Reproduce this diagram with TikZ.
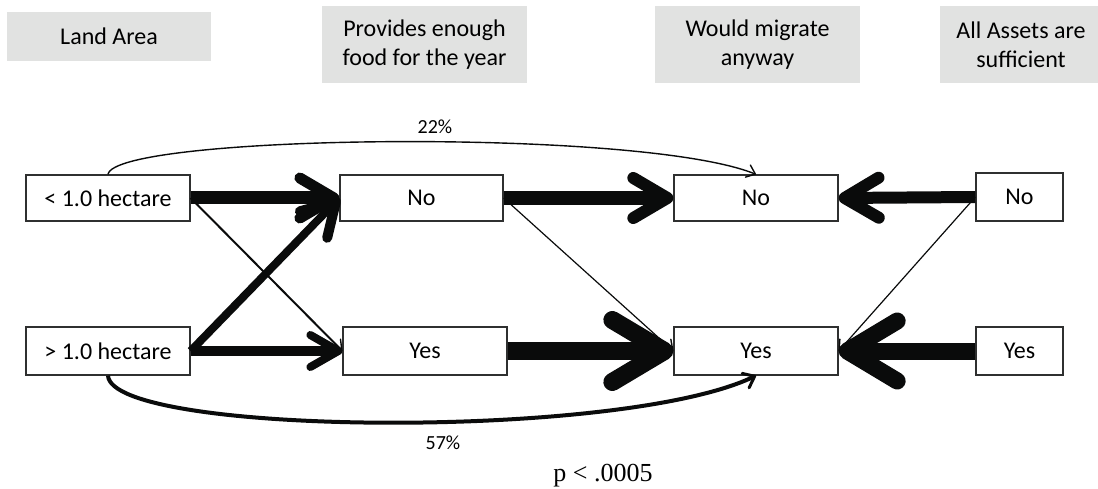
\documentclass[tikz,border=0pt]{standalone}
\usepackage{fontspec}
\setmainfont{Carlito}
\newfontfamily\timesf{Liberation Serif}
\usetikzlibrary{arrows.meta}
\definecolor{hdrgray}{HTML}{E1E2E1}
\definecolor{ink}{HTML}{0A0B0B}
\tikzset{
  hdr/.style={fill=hdrgray, draw=none, inner sep=0pt, align=center, font=\fontsize{24}{29}\selectfont},
  box/.style={draw=ink!85, line width=1.3pt, fill=white, inner sep=0pt, font=\fontsize{24}{29}\selectfont},
  lbl/.style={font=\fontsize{20}{24}\selectfont, inner sep=0pt},
  flow/.style={draw=ink, line cap=butt},
  bigtip/.style n args={4}{-{Straight Barb[length=#1pt, width=#2pt, line width=#3pt, round]}, line width=#4pt},
  thintip/.style={-{Straight Barb[length=9pt, width=14pt, line width=1.4pt, round]}, line width=#1},
}
\begin{document}
\begin{tikzpicture}[x=1pt,y=-1pt]
\useasboundingbox (0,0) rectangle (1098,489);
% headers
\node[hdr, minimum width=204pt, minimum height=49pt] (h1) at (109,36.5) {Land Area};
\node[hdr, minimum width=205pt, minimum height=77pt] (h2) at (424.5,44.5) {Provides enough\\food for the year};
\node[hdr, minimum width=205pt, minimum height=77pt] (h3) at (757.5,44.5) {Would migrate\\anyway};
\fill[hdrgray] (940,6) rectangle (1098,83);
\node[inner sep=0pt, align=center, font=\fontsize{24}{29}\selectfont] (h4) at (1021,44.5) {All Assets are\\sufficient};
% boxes
\node[box, minimum width=164pt, minimum height=46pt] (l1) at (108,198) {< 1.0 hectare};
\node[box, minimum width=164pt, minimum height=48pt] (l2) at (108,351) {> 1.0 hectare};
\node[box, minimum width=163pt, minimum height=46pt] (f1) at (421.5,198) {No};
\node[box, minimum width=164pt, minimum height=48pt] (f2) at (425,351) {Yes};
\node[box, minimum width=164pt, minimum height=46pt] (m1) at (756,198) {No};
\node[box, minimum width=164pt, minimum height=48pt] (m2) at (756,351) {Yes};
\node[box, minimum width=87pt, minimum height=48pt] (a1) at (1019.5,197) {No};
\node[box, minimum width=87pt, minimum height=48pt] (a2) at (1019.5,351) {Yes};
% arrows
\draw[flow, bigtip={34}{40}{11}{13}] (l1.east) -- (f1.west);
\draw[flow, thintip=2pt] (l1.east) -- (f2.west);
\draw[flow, bigtip={32}{38}{10}{8}] (l2.east) -- (f1.west);
\draw[flow, bigtip={28}{32}{8}{10}] (l2.east) -- (f2.west);
\draw[flow, bigtip={34}{40}{12}{14}] (f1.east) -- (m1.west);
\draw[flow, thintip=1.2pt] (f1.east) -- (m2.west);
\draw[flow, bigtip={52}{62}{18}{18}] (f2.east) -- (m2.west);
\draw[flow, bigtip={34}{40}{12}{12}] (a1.west) -- (m1.east);
\draw[flow, thintip=1.2pt] (a1.west) -- (m2.east);
\draw[flow, bigtip={50}{60}{17}{17}] (a2.west) -- (m2.east);
% curved arrows
\draw[flow, -{Straight Barb[length=8pt, width=13pt, line width=1.4pt, round]}, line width=1.4pt]
  (l1.north) .. controls +(7,-40) and +(-116,-47) .. (m1.north);
\draw[flow, -{Straight Barb[length=10pt, width=16pt, line width=3pt, round]}, line width=4pt]
  (l2.south) .. controls +(4,60) and +(-136,65) .. (m2.south);
% labels
\node[lbl] (p22) at (435,127) {22\%};
\node[lbl] (p57) at (443,443) {57\%};
\node[inner sep=0pt, font=\timesf\fontsize{26}{30}\selectfont] (pv) at (603,476) {p < .0005};
\end{tikzpicture}
\end{document}
